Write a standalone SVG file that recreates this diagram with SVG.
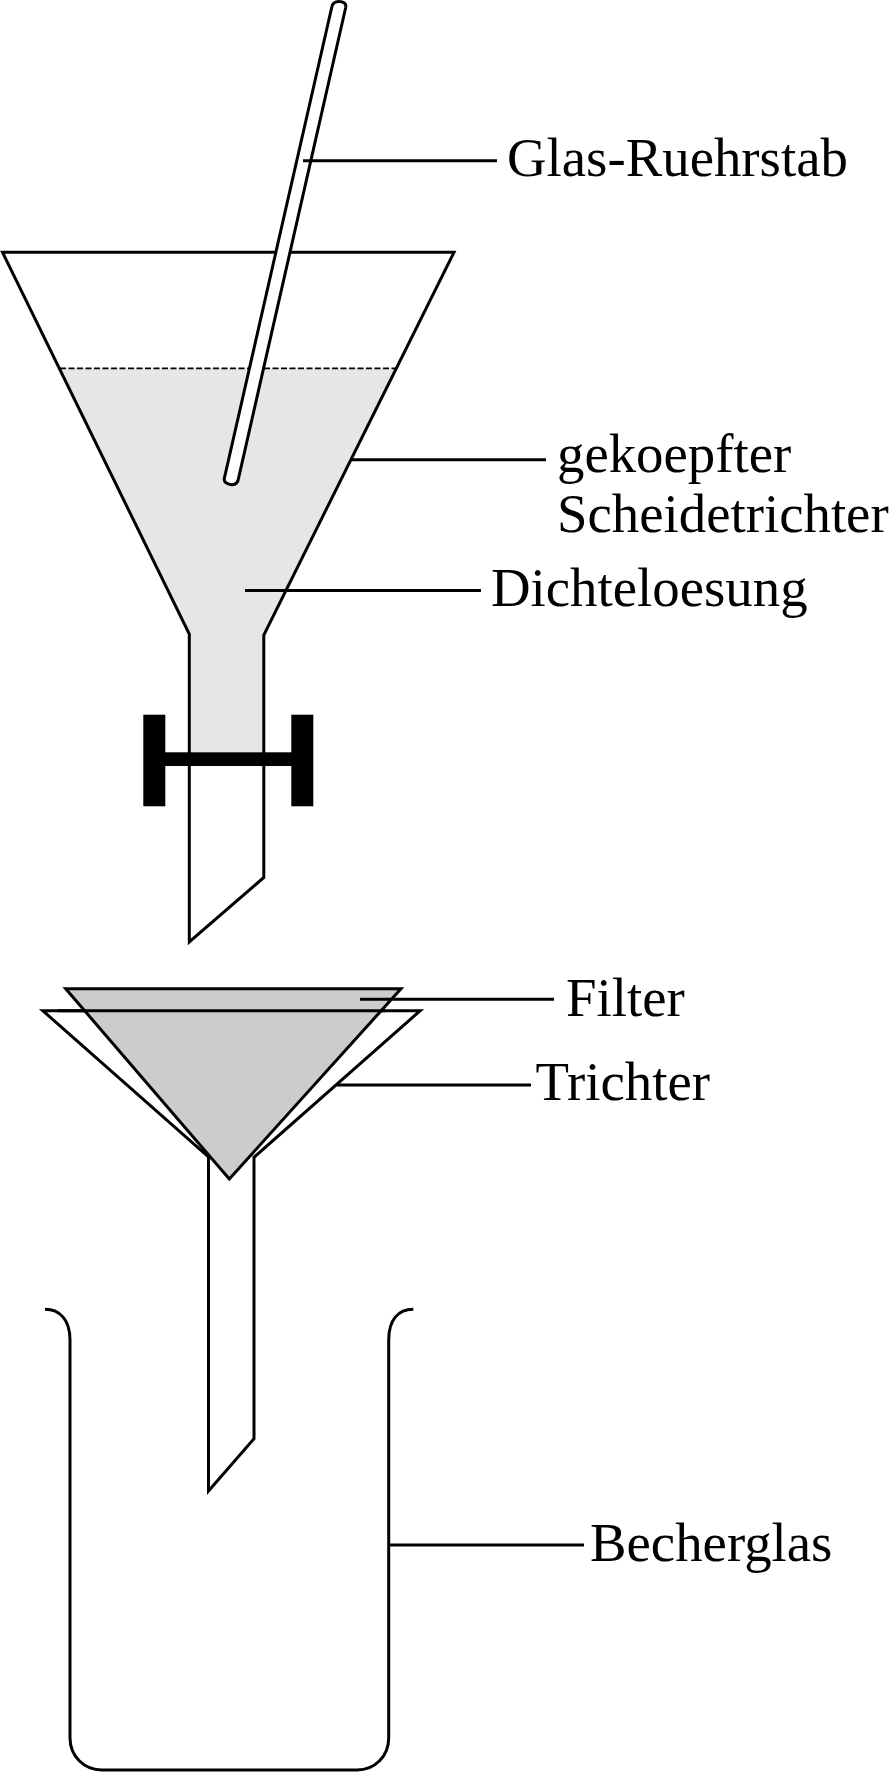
<svg xmlns="http://www.w3.org/2000/svg" width="889" height="1772" viewBox="0 0 889 1772">
<style>
.l{fill:none;stroke:#000;stroke-width:3;stroke-linejoin:miter}
.c{fill:none;stroke:#000;stroke-width:3}
.rod{fill:#fff;stroke:#000;stroke-width:3}
text{font-family:"Liberation Serif","Times New Roman",serif;font-size:54.800px;fill:#000}
</style>
<rect width="889" height="1772" fill="#fff"/>
<g id="scheidetrichter">
<path d="M60 368.300H395.700L263.300 634V752.500H189.300V634Z" fill="#e6e6e6"/>
<path class="l" d="M189.300 942V634L2.500 252.300H454L263.800 635V877.500L189.300 942Z"/>
<path d="M60 368.300H396" fill="none" stroke="#000" stroke-width="1.800" stroke-dasharray="6 2.500"/>
</g>
<g id="ruehrstab">
<path class="rod" d="M331.800 7C332.500 3 335 1.500 339 1.500C343.500 1.500 346.500 3.500 345.700 7.500L238.600 478C238 482.500 236 485 231.500 484.700C226.500 484.300 223.500 482 224.400 478Z"/>
</g>
<g id="hahn">
<rect x="143.300" y="714.700" width="22" height="91.600"/>
<rect x="291.300" y="714.700" width="22" height="91.600"/>
<rect x="165" y="752.300" width="127" height="13.700"/>
</g>
<g id="trichter">
<path class="l" d="M208.500 1491V1157L42.800 1010.700H420.200L254 1157.300V1438.700L208.500 1491Z"/>
</g>
<g id="filter">
<path d="M65.700 988.700H401L229.300 1179Z" fill="#ccc"/>
<path class="c" d="M58 1010.700H385"/>
<path class="l" d="M65.700 988.700H401L229.300 1179Z"/>
</g>
<g id="becherglas">
<path class="l" d="M45 1309.300C60 1309.300 70 1320 70 1340V1738C70 1756 84 1770 102 1770H357C375 1770 388.700 1756 388.700 1738V1340C388.700 1320 398 1309.300 413.300 1309.300"/>
</g>
<g id="connectors">
<path class="c" d="M303 160.700H497"/>
<path class="c" d="M352 459.700H546"/>
<path class="c" d="M245 590.500H481"/>
<path class="c" d="M360 999.300H554"/>
<path class="c" d="M336.700 1085H531"/>
<path class="c" d="M389 1545H584"/>
</g>
<g id="labels">
<text x="507" y="175.500">Glas-Ruehrstab</text>
<text x="557" y="472">gekoepfter</text>
<text x="557" y="532">Scheidetrichter</text>
<text x="491" y="606">Dichteloesung</text>
<text x="566" y="1015.500">Filter</text>
<text x="535.500" y="1099.500">Trichter</text>
<text x="590" y="1560.500">Becherglas</text>
</g>
</svg>
